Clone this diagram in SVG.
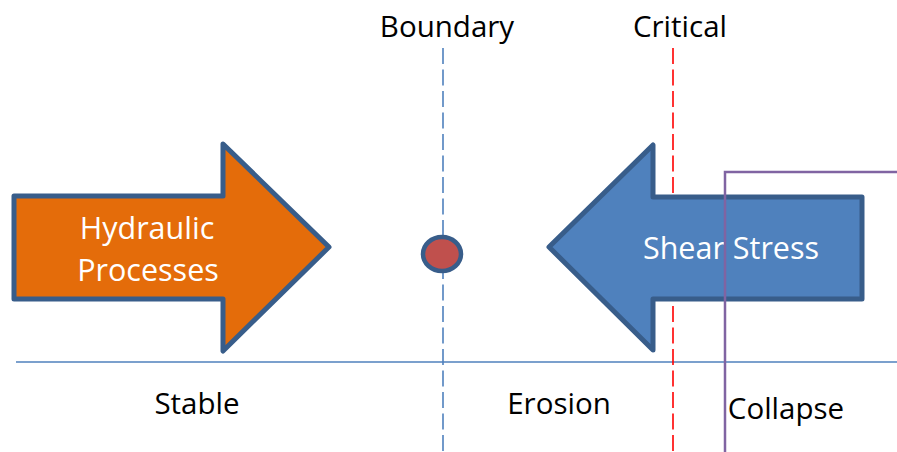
<svg xmlns="http://www.w3.org/2000/svg" width="897" height="452" viewBox="0 0 897 452">
<style>
text{font-family:"Open Sans","Noto Sans","Liberation Sans",sans-serif;font-size:29.5px;text-anchor:middle}
.lbl{fill:#000}
.in{fill:#fff;font-size:30.5px}
.arrow{stroke:#385D8A;stroke-width:5;stroke-linejoin:round}
</style>
<rect width="897" height="452" fill="#fff"/>
<g id="guides">
<line x1="16" y1="362" x2="897" y2="362" stroke="#4F81BD" stroke-width="1.3"/>
<line x1="443" y1="48" x2="443" y2="452" stroke="#4F81BD" stroke-width="1.6" stroke-dasharray="16 5.5"/>
<line x1="673" y1="48" x2="673" y2="452" stroke="#FF0000" stroke-width="1.6" stroke-dasharray="16 5.5"/>
</g>
<g id="hydraulic">
<polygon class="arrow" fill="#E46C0A" points="14,196 223,196 223,144 329,247 223,351 223,299 14,299"/>
<text class="in" x="147" y="239">Hydraulic</text>
<text class="in" x="148" y="281">Processes</text>
</g>
<g id="shear">
<polygon class="arrow" fill="#4F81BD" points="549,247 653,145 653,197 862,197 862,299 653,299 653,350"/>
<text class="in" x="731" y="259">Shear Stress</text>
</g>
<g id="point">
<ellipse cx="442" cy="254" rx="19" ry="17" fill="#C0504D" stroke="#385D8A" stroke-width="4.5"/>
</g>
<g id="collapse-box">
<polyline points="897,172 725,172 725,452" fill="none" stroke="#8064A2" stroke-width="2.5"/>
</g>
<g id="labels">
<text class="lbl" x="447" y="37">Boundary</text>
<text class="lbl" x="680" y="37">Critical</text>
<text class="lbl" x="197" y="414">Stable</text>
<text class="lbl" x="559" y="414">Erosion</text>
<text class="lbl" x="786" y="419">Collapse</text>
</g>
</svg>
